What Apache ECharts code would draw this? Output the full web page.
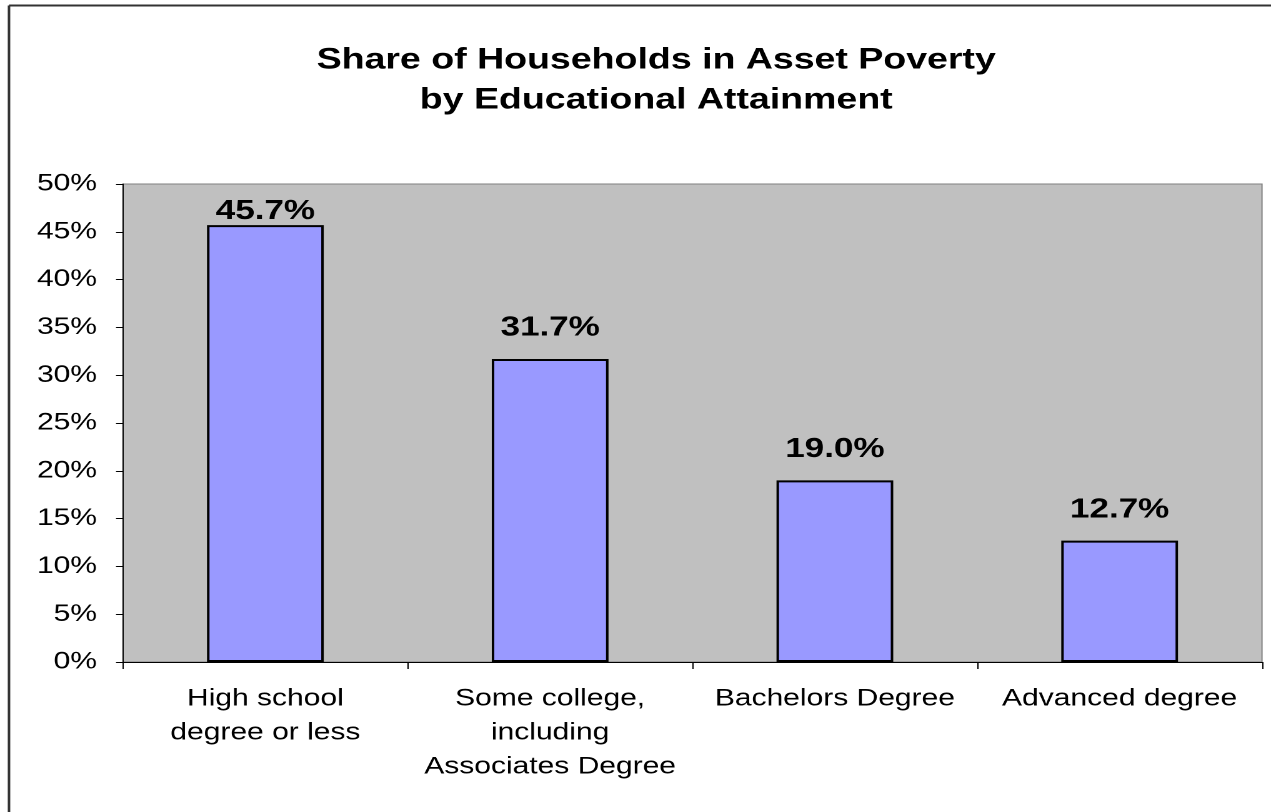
<!DOCTYPE html>
<html>
<head>
<meta charset="utf-8">
<script src="https://cdn.jsdelivr.net/npm/echarts@6/dist/echarts.min.js"></script>
<style>
html,body{margin:0;padding:0;background:#fff;overflow:hidden;}
#wrap{width:1271px;height:812px;overflow:hidden;}
#chart{width:1017px;height:812px;transform-origin:0 0;transform:scaleX(1.24975);}
</style>
</head>
<body>
<div id="wrap"><div id="chart"></div></div>
<script>
const categories = ['High school\ndegree or less', 'Some college,\nincluding\nAssociates Degree', 'Bachelors Degree', 'Advanced degree'];
const values = [45.7, 31.7, 19.0, 12.7];
const titleLines = 'Share of Households in Asset Poverty\nby Educational Attainment';

const SX = 1271 / 1017;
const FONT = '"Liberation Sans", Arial, sans-serif';
const chart = echarts.init(document.getElementById('chart'), null, {renderer: 'canvas', devicePixelRatio: 2});
chart.setOption({
  animation: false,
  backgroundColor: '#ffffff',
  title: {
    text: titleLines,
    left: 650 / SX, textAlign: 'center', top: 35,
    textStyle: {fontFamily: FONT, fontSize: 30, fontWeight: 'bold', color: '#000', lineHeight: 40}
  },
  grid: {
    left: 123 / SX, right: 9 / SX, top: 184, bottom: 150,
    show: true, backgroundColor: '#C0C0C0', borderColor: '#808080', borderWidth: 1
  },
  xAxis: {
    type: 'category', data: categories,
    axisLine: {lineStyle: {color: '#000', width: 1}},
    axisTick: {show: true, length: 7, lineStyle: {color: '#000'}},
    axisLabel: {fontFamily: FONT, fontSize: 24, color: '#000', margin: 20, lineHeight: 34, interval: 0}
  },
  yAxis: {
    type: 'value', min: 0, max: 50, interval: 5,
    axisLine: {show: true, lineStyle: {color: '#000', width: 1}},
    axisTick: {show: true, length: 7 / SX, lineStyle: {color: '#000'}},
    splitLine: {show: false},
    axisLabel: {fontFamily: FONT, fontSize: 24, color: '#000', margin: 26 / SX, formatter: v => v + '%'}
  },
  series: [{
    type: 'bar',
    barWidth: '41%',
    data: values.map((v, i) => ({value: v, label: {distance: i === 0 ? 0 : 17}})),
    itemStyle: {color: '#9999FF', borderColor: '#000', borderWidth: 2},
    label: {
      show: true, position: 'top',
      fontFamily: FONT, fontSize: 28, fontWeight: 'bold', color: '#000',
      formatter: p => p.value.toFixed(1) + '%'
    }
  }],
  graphic: [
    {type: 'line', shape: {x1: 9 / SX, y1: 5.5, x2: 1017, y2: 5.5}, style: {stroke: '#333', lineWidth: 2}},
    {type: 'line', shape: {x1: 9 / SX, y1: 5.5, x2: 9 / SX, y2: 812}, style: {stroke: '#333', lineWidth: 2}}
  ]
});
</script>
</body>
</html>
